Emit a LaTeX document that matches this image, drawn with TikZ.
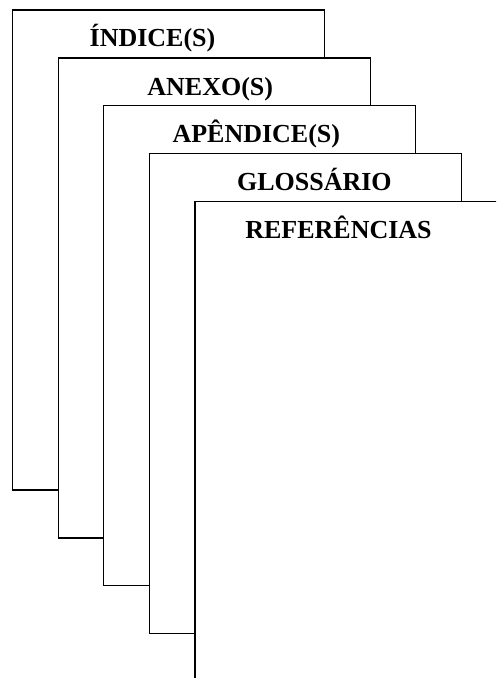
\documentclass[tikz,border=0pt]{standalone}
\usepackage{fontspec}
\setmainfont{Liberation Serif}
\usepackage{tikz}

\tikzset{
  page/.style={draw, fill=white, line width=1.2pt, inner sep=0pt, outer sep=0pt,
    minimum width=312pt, minimum height=480pt, anchor=north west},
  title/.style={anchor=base, inner sep=0pt, font=\bfseries\fontsize{26}{30}\selectfont}
}

\begin{document}
\begin{tikzpicture}[x=1pt,y=-1pt]
        \clip (0,0) rectangle (496,678);
        \node[page] (indice) at (12.5,10) {};
        \node[title] (tindice) at ([xshift=140pt,yshift=-36pt]indice.north west) {ÍNDICE(S)};
        \node[page] (anexo) at (58.2,58) {};
        \node[title] (tanexo) at ([xshift=152pt,yshift=-37pt]anexo.north west) {ANEXO(S)};
        \node[page] (apendice) at (103.8,105.8) {};
        \node[title] (tapendice) at ([xshift=152.5pt,yshift=-37pt]apendice.north west) {APÊNDICE(S)};
        \node[page] (glossario) at (149.4,153.6) {};
        \node[title] (tglossario) at ([xshift=165pt,yshift=-37pt]glossario.north west) {GLOSSÁRIO};
        \node[page] (referencias) at (195,201.5) {};
        \node[title] (treferencias) at ([xshift=143.5pt,yshift=-37pt]referencias.north west) {REFERÊNCIAS};
    \end{tikzpicture}
\end{document}
